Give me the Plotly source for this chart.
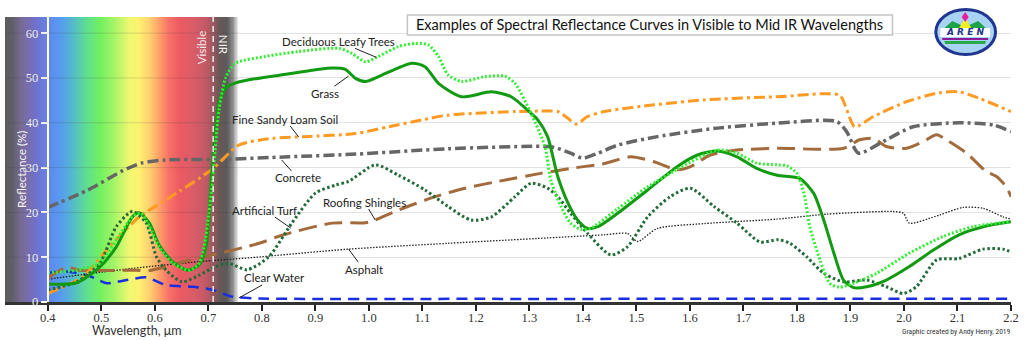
import numpy as np
import plotly.graph_objects as go

# ---------------------------------------------------------------- data
grass_wl = [0.40, 0.454, 0.497, 0.528, 0.558, 0.571, 0.590, 0.608, 0.633, 0.661, 0.683, 0.695,
            0.700, 0.706, 0.713, 0.720, 0.733, 0.751, 0.776, 0.838, 0.931, 0.956, 0.975, 0.994,
            1.018, 1.080, 1.105, 1.130, 1.173, 1.229, 1.266, 1.303, 1.316, 1.334, 1.353, 1.372,
            1.390, 1.409, 1.428, 1.465, 1.521, 1.576, 1.614, 1.651, 1.688, 1.725, 1.763, 1.805,
            1.831, 1.850, 1.869, 1.887, 1.906, 1.930, 1.967, 2.010, 2.055, 2.103, 2.148, 2.200]
grass_r = [4.0, 4.3, 7.8, 12.3, 19.0, 19.9, 17.6, 12.7, 9.0, 7.1, 8.3, 12.0,
           17.0, 28.0, 38.0, 44.4, 47.8, 48.9, 49.6, 50.7, 52.2, 51.9, 49.9, 49.2,
           50.3, 53.3, 52.5, 48.8, 45.8, 46.9, 45.8, 42.1, 40.6, 36.9, 28.0, 22.1,
           18.3, 16.4, 16.8, 19.8, 25.0, 30.2, 32.8, 33.7, 32.4, 29.8, 28.3, 27.6,
           24.3, 18.3, 10.9, 4.9, 3.2, 3.4, 4.9, 7.9, 11.6, 15.0, 16.8, 17.9]

trees_wl = [0.40, 0.454, 0.497, 0.528, 0.558, 0.574, 0.590, 0.608, 0.633, 0.665, 0.683, 0.692,
            0.701, 0.708, 0.720, 0.733, 0.751, 0.807, 0.869, 0.944, 0.968, 0.994, 1.018, 1.055,
            1.087, 1.111, 1.130, 1.148, 1.173, 1.217, 1.254, 1.273, 1.303, 1.329, 1.340, 1.359,
            1.377, 1.396, 1.415, 1.465, 1.521, 1.651, 1.688, 1.725, 1.763, 1.781, 1.800, 1.813,
            1.824, 1.843, 1.861, 1.880, 1.906, 1.949, 2.010, 2.073, 2.129, 2.200]
trees_r = [6.5, 7.1, 8.7, 13.8, 19.0, 19.8, 16.8, 12.3, 8.7, 7.1, 8.7, 12.3,
           19.8, 27.2, 42.9, 50.3, 53.3, 54.8, 55.9, 56.6, 55.5, 53.6, 54.8, 57.0,
           57.7, 57.4, 54.8, 50.7, 49.2, 50.3, 50.4, 48.8, 42.1, 34.7, 27.2, 21.3,
           17.6, 16.2, 16.5, 20.8, 25.7, 33.9, 33.2, 31.0, 30.6, 30.4, 28.7, 24.3,
           16.8, 9.4, 4.2, 3.3, 4.2, 6.4, 10.9, 14.6, 16.8, 17.9]

soil_wl = [0.40, 0.465, 0.515, 0.571, 0.621, 0.708, 0.757, 0.819, 0.882, 0.975, 1.037, 1.098,
           1.148, 1.273, 1.334, 1.353, 1.372, 1.387, 1.409, 1.440, 1.533, 1.627, 1.763, 1.880,
           1.893, 1.908, 1.943, 2.005, 2.066, 2.103, 2.140, 2.200]
soil_r = [1.9, 5.6, 12.3, 19.0, 22.8, 29.7, 35.0, 36.5, 36.9, 37.6, 39.1, 40.6,
          41.7, 42.5, 42.6, 42.5, 41.0, 39.7, 41.4, 42.5, 44.0, 45.1, 45.8, 46.1,
          42.9, 39.1, 41.4, 44.7, 46.7, 46.9, 45.5, 42.5]

concrete_wl = [0.40, 0.475, 0.540, 0.575, 0.620, 0.714, 0.850, 0.975, 1.148, 1.334, 1.353, 1.377,
               1.400, 1.428, 1.465, 1.539, 1.651, 1.763, 1.874, 1.893, 1.915, 1.955, 2.017, 2.103,
               2.167, 2.200]
concrete_r = [21.1, 25.0, 29.3, 31.0, 31.7, 31.8, 32.4, 33.0, 34.2, 34.7, 34.3, 33.2,
              32.1, 33.2, 35.0, 36.9, 38.8, 39.9, 40.3, 38.0, 33.2, 35.4, 39.1, 40.0,
              39.5, 38.0]

shingles_wl = [0.40, 0.435, 0.459, 0.566, 0.590, 0.659, 0.708, 0.795, 0.838, 0.931, 0.994, 1.012,
               1.055, 1.124, 1.180, 1.241, 1.321, 1.377, 1.440, 1.489, 1.533, 1.576, 1.601, 1.638,
               1.688, 1.763, 1.887, 1.917, 1.943, 1.967, 2.005, 2.036, 2.061, 2.079, 2.117, 2.154,
               2.173, 2.191, 2.200]
shingles_r = [5.3, 7.7, 7.1, 7.1, 7.0, 9.2, 10.5, 13.1, 14.9, 17.6, 17.7, 18.3,
              20.5, 23.5, 25.4, 26.9, 28.7, 29.8, 30.9, 32.4, 31.3, 29.5, 30.2, 32.8,
              33.9, 34.3, 34.3, 36.2, 36.5, 34.7, 34.3, 35.8, 37.3, 36.2, 33.2, 29.1,
              28.0, 25.7, 23.5]

turf_wl = [0.40, 0.454, 0.497, 0.528, 0.558, 0.584, 0.603, 0.621, 0.651, 0.683, 0.714, 0.739,
           0.772, 0.813, 0.856, 0.900, 0.938, 0.962, 1.012, 1.055, 1.105, 1.148, 1.191, 1.229,
           1.273, 1.303, 1.334, 1.353, 1.377, 1.409, 1.452, 1.483, 1.521, 1.563, 1.601, 1.645,
           1.688, 1.731, 1.765, 1.787, 1.818, 1.850, 1.887, 1.930, 1.967, 1.999, 2.023, 2.061,
           2.103, 2.148, 2.185, 2.200]
turf_r = [2.7, 4.5, 8.6, 16.8, 20.2, 17.6, 10.1, 7.1, 4.5, 6.0, 7.9, 8.6,
          7.2, 10.1, 17.6, 24.3, 26.1, 26.9, 30.6, 28.3, 25.0, 21.3, 18.3, 19.0,
          23.5, 26.5, 25.4, 23.5, 19.8, 15.3, 10.5, 12.3, 19.0, 23.5, 25.4, 21.3,
          17.6, 13.4, 13.9, 13.1, 10.1, 6.4, 4.5, 4.9, 3.4, 1.9, 3.4, 9.4,
          9.7, 11.8, 11.8, 11.2]

asphalt_wl = [0.40, 0.558, 0.683, 0.780, 0.962, 1.148, 1.334, 1.440, 1.483, 1.502, 1.539, 1.627,
              1.763, 1.856, 1.980, 1.999, 2.010, 2.066, 2.110, 2.148, 2.185, 2.200]
asphalt_r = [5.1, 7.5, 9.0, 9.9, 11.8, 13.1, 14.3, 15.0, 15.3, 13.5, 16.4, 17.5,
             18.5, 19.6, 20.2, 19.8, 17.6, 19.4, 21.1, 20.9, 19.0, 18.5]

water_wl = [0.40, 0.435, 0.478, 0.510, 0.547, 0.584, 0.621, 0.670, 0.708, 0.744, 0.795, 1.200,
            1.600, 2.000, 2.200]
water_r = [6.5, 6.8, 5.8, 4.2, 4.9, 5.5, 3.8, 3.4, 2.7, 1.2, 0.8, 0.7,
           0.7, 0.7, 0.7]

x_ticks = [round(0.4 + 0.1 * i, 1) for i in range(19)]
y_ticks = [0, 10, 20, 30, 40, 50, 60]

# ---------------------------------------------------------------- layout geometry
W, H = 1024, 340
PL, PR, PT, PB = 5, 1015, 17, 302          # plot area in pixels
X_RANGE = [0.32, 2.2]
Y_RANGE = [0, 63.6]


def px(x):
    return (x - PL) / (PR - PL)


def py(y):
    return (PB - y) / (PB - PT)


# visible-light spectrum backdrop (wavelength, colour)
spectrum = [(0.320, "#5c5c5c"), (0.333, "#5f5e66"), (0.352, "#7a6c98"), (0.376, "#7070c8"),
            (0.394, "#6a7ee0"), (0.413, "#5a92f2"), (0.432, "#55a5e6"), (0.450, "#55c0c0"),
            (0.474, "#60e090"), (0.497, "#70f060"), (0.525, "#a8f468"), (0.553, "#f0f870"),
            (0.571, "#fff070"), (0.590, "#ffd070"), (0.608, "#ffa068"), (0.627, "#f87068"),
            (0.646, "#ec5a62"), (0.674, "#d85c68"), (0.696, "#c05a66"), (0.709, "#985860"),
            (0.720, "#6a5858"), (0.735, "#5a5a5a"), (0.746, "#909090"), (0.757, "#ffffff")]
s_lo, s_hi = spectrum[0][0], spectrum[-1][0]
colorscale = [[(w - s_lo) / (s_hi - s_lo), c] for w, c in spectrum]
edges = np.linspace(s_lo, s_hi, 401)
mids = (edges[:-1] + edges[1:]) / 2

fig = go.Figure()
fig.add_trace(go.Heatmap(x=edges, y=Y_RANGE, z=[mids], colorscale=colorscale,
                         zmin=s_lo, zmax=s_hi, showscale=False, hoverinfo="skip",
                         zsmooth=False))

# ---------------------------------------------------------------- curves
curves = [
    (water_wl, water_r, "Clear Water", "#1a2ee0", 2.5, "11px,7px"),
    (asphalt_wl, asphalt_r, "Asphalt", "#222222", 1.3, "1.5px,1.5px"),
    (shingles_wl, shingles_r, "Roofing Shingles", "#a36b3c", 3, "18px,8px"),
    (concrete_wl, concrete_r, "Concrete", "#666666", 3.5, "11px,4px,3px,4px"),
    (soil_wl, soil_r, "Fine Sandy Loam Soil", "#ff9a22", 3, "11px,4px,3px,4px"),
    (turf_wl, turf_r, "Artificial Turf", "#226b38", 3, "2.5px,2.5px"),
    (grass_wl, grass_r, "Grass", "#129a12", 3, "solid"),
    (trees_wl, trees_r, "Deciduous Leafy Trees", "#33ee33", 3, "2px,2px"),
]
for wl, r, name, color, width, dash in curves:
    fig.add_trace(go.Scatter(x=wl, y=r, mode="lines", name=name, hoverinfo="skip",
                             line=dict(color=color, width=width, dash=dash,
                                       shape="spline", smoothing=0.7)))

# ---------------------------------------------------------------- shapes
shapes = []
# gridlines carried across the spectrum backdrop
for v in y_ticks[1:]:
    shapes.append(dict(type="line", xref="x", yref="y", x0=X_RANGE[0], x1=s_hi, y0=v, y1=v,
                       line=dict(color="rgba(60,60,60,0.18)", width=1), layer="above"))
# visible / near-infrared boundary
shapes.append(dict(type="line", xref="x", yref="y", x0=0.709, x1=0.709, y0=Y_RANGE[0],
                   y1=Y_RANGE[1], line=dict(color="#eeeeee", width=1.5, dash="6px,4px"),
                   layer="above"))
# title frame
shapes.append(dict(type="rect", xref="paper", yref="paper", x0=px(409), x1=px(896),
                   y0=py(35), y1=py(15), line=dict(color="#c4c4c4", width=1.5),
                   fillcolor="white", layer="above"))


# logo emblem
def ell(x0, x1, y0, y1, fill):
    return dict(type="circle", xref="paper", yref="paper", x0=px(x0), x1=px(x1),
                y0=py(y1), y1=py(y0), fillcolor=fill, line=dict(width=0), layer="above")


def poly(points, fill):
    d = "M " + " L ".join(f"{px(a):.5f},{py(b):.5f}" for a, b in points) + " Z"
    return dict(type="path", xref="paper", yref="paper", path=d, fillcolor=fill,
                line=dict(width=0), layer="above")


shapes += [
    ell(938, 1001, 8, 56, "#1f3590"),
    ell(941, 998, 11, 53, "#a9d3f2"),
    poly([(945, 31), (956, 21), (969, 27), (982, 21), (993, 31)], "#1aa34a"),
    poly([(961, 31), (969, 18), (977, 31)], "#f4ee22"),
    poly([(969, 12), (972.5, 17), (969, 22), (965.5, 17)], "#e81ea0"),
    poly([(944, 28), (994, 28), (994, 37), (944, 37)], "#ffffff"),
    poly([(946, 38), (992, 38), (992, 40), (946, 40)], "#8a1a9a"),
    poly([(948, 41), (990, 41), (989, 44), (949, 44)], "#2aa84a"),
]

# ---------------------------------------------------------------- annotations
LBL = dict(family="Lato, 'Open Sans', sans-serif", size=11.5, color="#222222")
annotations = []
labels = [
    ("Deciduous Leafy Trees", 1.014, 54.6, -38, -16),
    ("Grass", 0.962, 50.4, -24, 17),
    ("Fine Sandy Loam Soil", 0.869, 36.8, -14, -18),
    ("Concrete", 0.837, 31.7, 16, 18),
    ("Artificial Turf", 0.854, 16.5, -26, -18),
    ("Roofing Shingles", 1.012, 18.3, -11, -18),
    ("Asphalt", 0.962, 11.8, 15, 20),
    ("Clear Water", 0.757, 0.9, 36, -20),
]
for text, x, y, ax, ay in labels:
    annotations.append(dict(text=text, x=x, y=y, xref="x", yref="y", ax=ax, ay=ay,
                            showarrow=True, arrowhead=0, arrowwidth=1, arrowcolor="#222222",
                            font=LBL, borderpad=0))


def note(text, x, y, size, color, xanchor="center", angle=0, family="Lato, sans-serif"):
    return dict(text=text, xref="paper", yref="paper", x=px(x), y=py(y), xanchor=xanchor,
                yanchor="middle", textangle=angle, showarrow=False,
                font=dict(family=family, size=size, color=color))


annotations += [
    note("Examples of Spectral Reflectance Curves in Visible to Mid IR Wavelengths",
         652, 25, 14.5, "#111111"),
    note("Visible", 202, 47, 11.5, "#f4e6e6", angle=-90),
    note("NIR", 224, 45, 11.5, "#eeeeee", angle=90),
    note("Reflectance (%)", 21, 169, 11.5, "#f4f4f4", angle=-90),
    note("Wavelength, μm", 137, 330, 12.5, "#333333"),
    note("Graphic created by Andy Henry, 2019", 1017, 331, 7.5, "#333333", xanchor="right",
         family="Liberation Sans Narrow, Roboto Condensed, Lato, sans-serif"),
    note("<i><b>A R E N</b></i>", 969, 32.5, 9, "#1f3590", family="DejaVu Sans, sans-serif"),
]

fig.update_layout(
    width=W, height=H, autosize=False,
    margin=dict(l=PL, r=W - PR, t=PT, b=H - PB, pad=0),
    paper_bgcolor="white", plot_bgcolor="white",
    showlegend=False,
    shapes=shapes, annotations=annotations,
    xaxis=dict(range=X_RANGE, tickvals=x_ticks, ticktext=[f"{v:.1f}" for v in x_ticks],
               showgrid=False, zeroline=False, showline=True, linecolor="#333333",
               linewidth=3, ticks="outside", ticklen=6, tickwidth=2, tickcolor="#222222",
               ticklabelstandoff=-4,
               tickfont=dict(family="Liberation Serif, serif", size=12.5, color="#333333")),
    yaxis=dict(range=Y_RANGE, tickvals=y_ticks, anchor="free", position=px(48),
               showgrid=True, gridcolor="#e2e2e2", gridwidth=1, zeroline=False,
               showline=True, linecolor="white", linewidth=2, ticks="outside", ticklen=6,
               tickwidth=2, tickcolor="white",
               tickfont=dict(family="Liberation Serif, serif", size=12.5, color="#f2f2f2")),
)

fig.write_html("out.html")
